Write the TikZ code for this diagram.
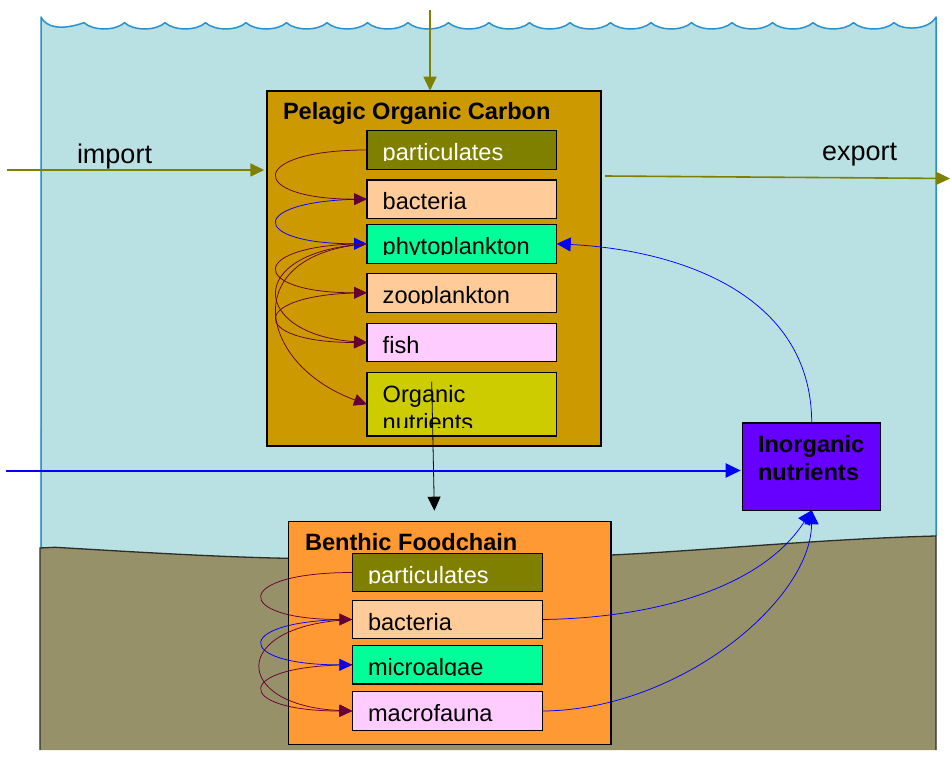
\documentclass[tikz,border=0pt]{standalone}
\usepackage{fontspec}
\setmainfont{Liberation Sans}
\usetikzlibrary{arrows.meta}

\definecolor{waterfill}{RGB}{185,224,227}
\definecolor{waterline}{RGB}{40,145,210}
\definecolor{mudfill}{RGB}{151,145,106}
\definecolor{mudline}{RGB}{45,45,40}
\definecolor{pelfill}{RGB}{204,153,0}
\definecolor{benfill}{RGB}{255,153,51}
\definecolor{partfill}{RGB}{128,128,0}
\definecolor{peach}{RGB}{255,204,153}
\definecolor{algae}{RGB}{0,255,153}
\definecolor{pinkfill}{RGB}{255,204,255}
\definecolor{orgfill}{RGB}{204,204,0}
\definecolor{inorgfill}{RGB}{102,0,255}
\definecolor{flowolive}{RGB}{128,128,0}
\definecolor{loopred}{RGB}{102,0,51}
\definecolor{flowblue}{RGB}{0,0,255}

\tikzset{
  ibox/.style={draw=black, rectangle, inner sep=0pt, outer sep=0pt, line width=1.5pt},
  lbl/.style={inner sep=0pt, outer sep=0pt, font=\fontsize{23.6}{28}\selectfont},
  boxtitle/.style={inner sep=0pt, outer sep=0pt, font=\fontsize{23.6}{28}\selectfont\bfseries},
  bigtxt/.style={inner sep=0pt, outer sep=0pt, font=\fontsize{27}{32}\selectfont},
  redloop/.style={draw=loopred, line width=0.75pt, -{Triangle[length=13pt,width=12pt]}},
  blueloop/.style={draw=flowblue, line width=0.75pt, -{Triangle[length=13pt,width=12pt]}},
  bluethin/.style={draw=flowblue, line width=0.75pt, -{Triangle[length=14pt,width=14pt]}},
  olivearrow/.style={draw=flowolive, line width=1.6pt, -{Triangle[length=14pt,width=13pt]}},
  bluearrow/.style={draw=flowblue, line width=2pt, -{Triangle[length=15pt,width=14pt]}},
  blackarrow/.style={draw=black, line width=0.8pt, -{Triangle[length=14pt,width=13pt]}},
}

% label inside a compartment box, cut off a little above the box bottom
\newcommand\boxlabel[3]{%
  \begin{scope}
    \clip (#1.north west) rectangle ([yshift=8.5pt]#1.south east);
    \node[lbl, text=#2, anchor=base west] (#1-t) at ([xshift=15.7pt,yshift=-30pt]#1.north west) {#3};
  \end{scope}}

\begin{document}
\begin{tikzpicture}[x=1pt,y=-1pt]
\useasboundingbox (0,0) rectangle (950,759);

% water body with wavy surface
\fill[waterfill] (41,17) .. controls (46,27) and (60,31) .. (84,22.7)
  \foreach \i [evaluate=\i as \xa using 84+\i*40.5] in {0,...,19}
    { .. controls (\xa+9,31) and (\xa+31.5,31) .. (\xa+40.5,22.7)}
  .. controls (903,31) and (929,30) .. (936,17) -- (936,565) -- (40,565) -- cycle;
\draw[waterline, line width=1.5pt, line join=round] (41,548) -- (41,17)
  .. controls (46,27) and (60,31) .. (84,22.7)
  \foreach \i [evaluate=\i as \xa using 84+\i*40.5] in {0,...,19}
    { .. controls (\xa+9,31) and (\xa+31.5,31) .. (\xa+40.5,22.7)}
  .. controls (903,31) and (929,30) .. (936,17) -- (936,536);

% sediment
\fill[mudfill] (40,548) -- (55,547.3) .. controls (120,551) and (220,557.5) .. (300,558.5)
  .. controls (450,559) and (550,557) .. (611,555)
  .. controls (700,551) and (820,539) .. (936,536) -- (936,750) -- (40,750) -- cycle;
\draw[mudline, line width=1.3pt] (40,750) -- (40,548) -- (55,547.3)
  .. controls (120,551) and (220,557.5) .. (300,558.5)
  .. controls (450,559) and (550,557) .. (611,555)
  .. controls (700,551) and (820,539) .. (936,536) -- (936,750);

% pelagic compartment
\node[ibox, fill=pelfill, line width=2pt, minimum width=333.4pt, minimum height=355pt] (pel) at (434,268.2) {};
\node[boxtitle, anchor=base west] (peltitle) at (283,120) {Pelagic Organic Carbon};

\node[ibox, fill=partfill, minimum width=189.7pt, minimum height=38.6pt] (pp) at (461.85,150) {};
\boxlabel{pp}{white}{particulates}
\node[ibox, fill=peach, minimum width=189.7pt, minimum height=38.3pt] (pb) at (461.85,199.15) {};
\boxlabel{pb}{black}{bacteria}
\node[ibox, fill=algae, minimum width=189.7pt, minimum height=39pt] (phy) at (461.85,243.8) {};
\boxlabel{phy}{black}{phytoplankton}
\node[ibox, fill=peach, minimum width=189.7pt, minimum height=39pt] (zoo) at (461.85,292.8) {};
\boxlabel{zoo}{black}{zooplankton}
\node[ibox, fill=pinkfill, minimum width=189.7pt, minimum height=38.4pt] (fish) at (461.85,342.5) {};
\boxlabel{fish}{black}{fish}
\node[ibox, fill=orgfill, minimum width=189.7pt, minimum height=63.3pt] (org) at (461.85,404.35) {};
\begin{scope}
  \clip (org.north west) rectangle ([yshift=8.5pt]org.south east);
  \node[lbl, anchor=base west] (orgA) at ([xshift=15.7pt,yshift=-30pt]org.north west) {Organic};
  \node[lbl, anchor=base west] (orgB) at ([xshift=15.7pt,yshift=-58pt]org.north west) {nutrients};
\end{scope}

% benthic compartment
\node[ibox, fill=benfill, minimum width=322.3pt, minimum height=222.6pt] (ben) at (449.85,633) {};
\node[boxtitle, anchor=base west] (bentitle) at (305,550) {Benthic Foodchain};

\node[ibox, fill=partfill, minimum width=190.4pt, minimum height=38.4pt] (bp) at (447.5,572.5) {};
\boxlabel{bp}{white}{particulates}
\node[ibox, fill=peach, minimum width=190.4pt, minimum height=38.4pt] (bb) at (447.5,619.5) {};
\boxlabel{bb}{black}{bacteria}
\node[ibox, fill=algae, minimum width=190.4pt, minimum height=38.3pt] (bm) at (447.5,664.85) {};
\boxlabel{bm}{black}{microalgae}
\node[ibox, fill=pinkfill, minimum width=190.4pt, minimum height=38.6pt] (bmf) at (447.5,711) {};
\boxlabel{bmf}{black}{macrofauna}

% inorganic nutrient pool
\node[ibox, fill=inorgfill, minimum width=138pt, minimum height=87.3pt] (inorg) at (811.7,466.65) {};
\node[boxtitle, anchor=base west] (inorgA) at (758,452.7) {Inorganic};
\node[boxtitle, anchor=base west] (inorgB) at (758,480) {nutrients};

% exchange labels
\node[bigtxt, anchor=base west] (imptxt) at (77,164) {import};
\node[bigtxt, anchor=base west] (exptxt) at (822,161) {export};

% pelagic food-web links
\draw[redloop] (pp.west) .. controls +(-120,0) and +(-120,0) .. (pb.west);
\draw[blueloop] (pb.west) .. controls +(-120,0) and +(-120,0) .. (phy.west);
\draw[redloop] (phy.west) .. controls +(-120,0) and +(-120,0) .. (zoo.west);
\draw[redloop] (phy.west) .. controls +(-125,8) and +(-115,-8) .. (fish.west);
\draw[redloop] (zoo.west) .. controls +(-120,0) and +(-120,0) .. (fish.west);
\draw[redloop] (phy.west) .. controls +(-130,10) and +(-110,-40) .. (org.west);

% benthic food-web links
\draw[redloop] (bp.west) .. controls +(-120,0) and +(-120,0) .. (bb.west);
\draw[blueloop] (bb.west) .. controls +(-120,0) and +(-120,0) .. (bm.west);
\draw[redloop] (bb.west) .. controls +(-125,5) and +(-120,-5) .. (bmf.west);
\draw[redloop] (bm.west) .. controls +(-120,0) and +(-120,0) .. (bmf.west);

% nutrient recycling
\draw[bluethin] (bb.east) .. controls (650,618) and (760,590) .. (inorg.south);
\draw[bluethin] (bmf.east) .. controls (680,710) and (811,600) .. (inorg.south);
\draw[bluethin] (inorg.north) .. controls +(0,-130) and +(120,6) .. (phy.east);

% external fluxes
\coordinate (topsrc) at (430,10);
\draw[olivearrow] (topsrc) -- (topsrc |- pel.north);
\coordinate (impsrc) at (7,170);
\draw[olivearrow, shorten >=3pt] (impsrc) -- (impsrc -| pel.west);
\coordinate (expsrc) at (605,176);
\coordinate (expdst) at (950,178.5);
\draw[olivearrow] (expsrc) -- (expdst);
\coordinate (nutsrc) at (6,470.5);
\draw[bluearrow, shorten >=2pt] (nutsrc) -- (nutsrc -| inorg.west);

% sinking organic matter
\coordinate (orgdrop) at (431.7,381.7);
\draw[blackarrow] (orgdrop) -- ([xshift=-15.5pt,yshift=11pt]ben.north);
\end{tikzpicture}
\end{document}
